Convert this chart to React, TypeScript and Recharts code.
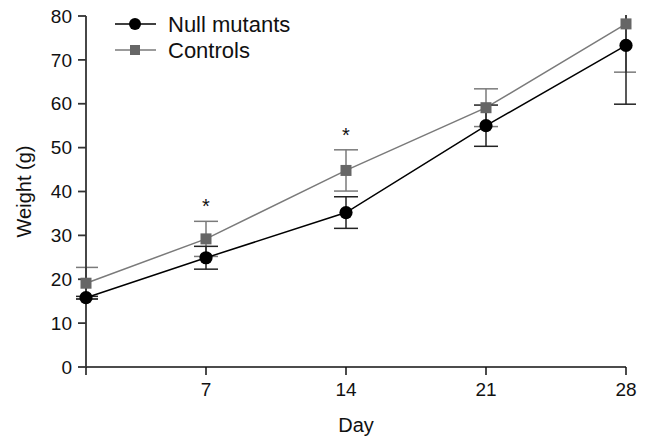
import React from "react";
import {
  LineChart, Line, XAxis, YAxis, ErrorBar, ReferenceDot, Label
} from "recharts";

// Body weight by day, mean ± error
const DAYS = [1, 7, 14, 21, 28];
const NULL_MEAN = [15.8, 24.9, 35.2, 55.0, 73.3];
const NULL_ERR = [0.3, 2.6, 3.6, 4.7, 13.4];
const CTRL_MEAN = [19.1, 29.2, 44.8, 59.1, 78.2];
const CTRL_ERR = [3.6, 4.0, 4.7, 4.3, 11.0];
const SIGNIFICANT_DAYS = [7, 14];
const X_TICKS = [1, 7, 14, 21, 28];
const Y_TICKS = [0, 10, 20, 30, 40, 50, 60, 70, 80];

const FONT = "Liberation Sans, Arial, Helvetica, sans-serif";
const NULL_COLOR = "#000000";
const CTRL_LINE = "#7a7a7a";
const CTRL_MARK = "#666666";

const W = 651;
const H = 438;
const MARGIN = { top: 16, right: 25, bottom: 17, left: 26 };
const Y_AXIS_W = 60;
const X_AXIS_H = 54;

const data = DAYS.map((d, i) => ({
  day: d,
  nullMean: NULL_MEAN[i],
  nullErr: NULL_ERR[i],
  ctrlMean: CTRL_MEAN[i],
  ctrlErr: CTRL_ERR[i],
}));

const SquareDot = (props: any) => {
  const { cx, cy, index } = props;
  if (cx == null || cy == null) return null;
  return <rect key={`sq-${index}`} x={cx - 5.5} y={cy - 5.5} width={11} height={11} fill={CTRL_MARK} />;
};

const CircleDot = (props: any) => {
  const { cx, cy, index } = props;
  if (cx == null || cy == null) return null;
  return <circle key={`c-${index}`} cx={cx} cy={cy} r={6.6} fill={NULL_COLOR} />;
};

const LegendBox = () => (
  <svg width={240} height={60} style={{ position: "absolute", left: 110, top: 10, overflow: "visible" }}>
    <line x1={5} x2={46} y1={14} y2={14} stroke={NULL_COLOR} strokeWidth={1.5} />
    <circle cx={25} cy={14} r={6} fill={NULL_COLOR} />
    <text x={58} y={14} dy="0.36em" fontSize={22} fontFamily={FONT} fill="#111">Null mutants</text>
    <line x1={5} x2={46} y1={40} y2={40} stroke={CTRL_LINE} strokeWidth={1.5} />
    <rect x={20} y={35} width={10} height={10} fill={CTRL_MARK} />
    <text x={58} y={40} dy="0.36em" fontSize={22} fontFamily={FONT} fill="#111">Controls</text>
  </svg>
);

export default function App() {
  const tickStyle = { fontSize: 19, fontFamily: FONT, fill: "#111" };
  const titleStyle = { fontSize: 20, fontFamily: FONT, fill: "#111" };
  // plot area, used only to clip the error bars that run past 80 g
  const plotX = MARGIN.left + Y_AXIS_W;
  const plotW = W - plotX - MARGIN.right;
  const plotH = H - MARGIN.top - MARGIN.bottom - X_AXIS_H;
  return (
    <div style={{ position: "absolute", left: 0, top: 0, width: W, height: H, background: "#fff" }}>
      <LineChart width={W} height={H} data={data} margin={MARGIN}>
        <defs>
          <clipPath id="plot-clip">
            <rect x={plotX - 10} y={MARGIN.top - 1} width={plotW + 20} height={plotH + 2} />
          </clipPath>
        </defs>
        <XAxis
          dataKey="day"
          type="number"
          domain={[1, 28]}
          ticks={X_TICKS}
          tickFormatter={(v: number) => (v === 1 ? "" : String(v))}
          height={X_AXIS_H}
          stroke="#111"
          strokeWidth={1.5}
          tickSize={8}
          tick={tickStyle}
          tickMargin={8}
        >
          <Label value="Day" position="insideBottom" offset={-11} style={titleStyle} />
        </XAxis>
        <YAxis
          type="number"
          domain={[0, 80]}
          ticks={Y_TICKS}
          allowDataOverflow
          width={Y_AXIS_W}
          stroke="#333"
          strokeWidth={1.8}
          tickSize={8}
          tick={tickStyle}
          tickMargin={6}
        >
          <Label value="Weight (g)" angle={-90} position="insideLeft" offset={-2} style={{ ...titleStyle, textAnchor: "middle" }} />
        </YAxis>
        <Line
          dataKey="ctrlMean"
          name="Controls"
          stroke={CTRL_LINE}
          strokeWidth={1.5}
          dot={SquareDot}
          activeDot={false}
          isAnimationActive={false}
        >
          <ErrorBar dataKey="ctrlErr" direction="y" width={12} stroke={CTRL_LINE} strokeWidth={1.5} clipPath="url(#plot-clip)" />
        </Line>
        <Line
          dataKey="nullMean"
          name="Null mutants"
          stroke={NULL_COLOR}
          strokeWidth={1.5}
          dot={CircleDot}
          activeDot={false}
          isAnimationActive={false}
        >
          <ErrorBar dataKey="nullErr" direction="y" width={12} stroke="#222" strokeWidth={1.5} clipPath="url(#plot-clip)" />
        </Line>
        {SIGNIFICANT_DAYS.map((d) => {
          const i = DAYS.indexOf(d);
          return (
            <ReferenceDot
              key={d}
              x={d}
              y={CTRL_MEAN[i] + CTRL_ERR[i]}
              r={0}
              stroke="none"
              fill="none"
              label={{ value: "*", position: "top", offset: 8, style: { fontSize: 20, fontFamily: FONT, fill: "#111" } }}
            />
          );
        })}
      </LineChart>
      <LegendBox />
    </div>
  );
}
